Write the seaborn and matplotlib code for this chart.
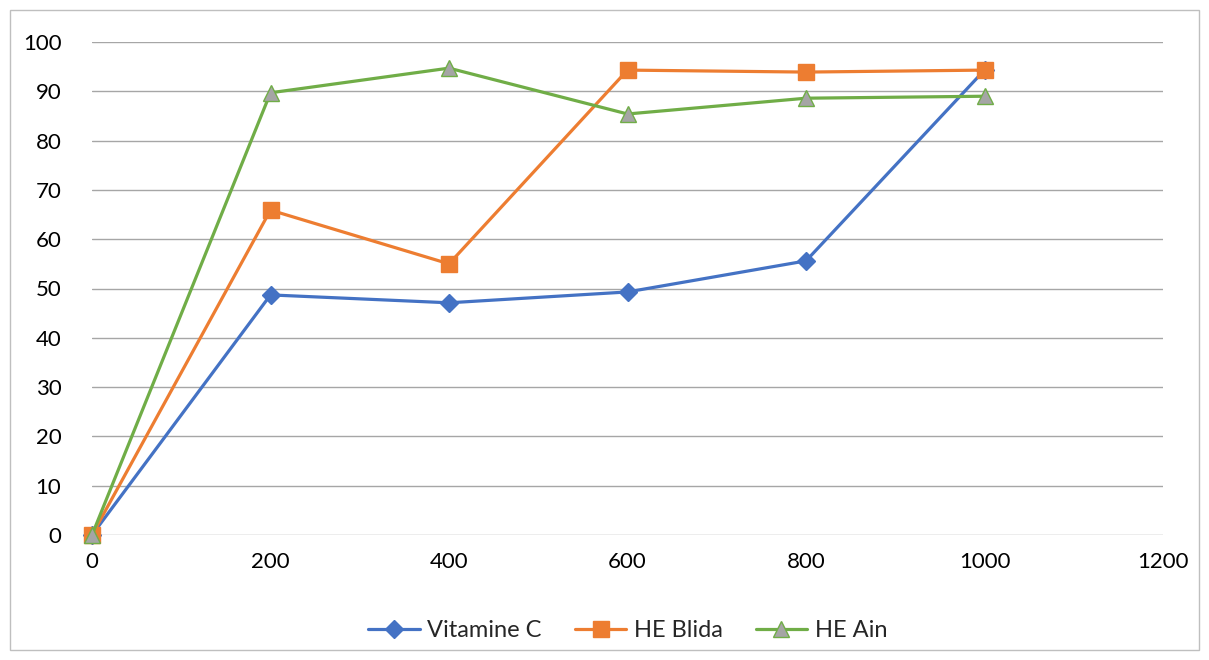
import matplotlib
matplotlib.use("Agg")
import matplotlib.pyplot as plt
import seaborn as sns
import pandas as pd
from matplotlib.patches import Rectangle

concentrations = [0, 200, 400, 600, 800, 1000]
vitamine_c = [0, 48.7, 47.1, 49.3, 55.6, 94.3]
he_blida = [0, 65.9, 55.0, 94.3, 93.9, 94.3]
he_ain = [0, 89.7, 94.7, 85.4, 88.6, 89.0]
series_names = ["Vitamine C", "HE Blida", "HE Ain"]
x_ticks = [0, 200, 400, 600, 800, 1000, 1200]
y_ticks = [0, 10, 20, 30, 40, 50, 60, 70, 80, 90, 100]

sns.set_theme(style="white")
plt.rcParams['font.family'] = ['Lato', 'DejaVu Sans']

fig = plt.figure(figsize=(12.09, 6.6), dpi=100)
ax = fig.add_axes([92/1209, 1-535/660, (1163-92)/1209, (535-42)/660])

styles = {
    "Vitamine C": dict(color="#4472C4", marker="D", markersize=9, markerfacecolor="#4472C4", markeredgecolor="#4472C4"),
    "HE Blida": dict(color="#ED7D31", marker="s", markersize=12, markerfacecolor="#ED7D31", markeredgecolor="#ED7D31"),
    "HE Ain": dict(color="#70AD47", marker="^", markersize=12, markerfacecolor="#A5A5A5", markeredgecolor="#70AD47"),
}
for name, vals in zip(series_names, [vitamine_c, he_blida, he_ain]):
    df = pd.DataFrame({"x": concentrations, "y": vals})
    sns.lineplot(data=df, x="x", y="y", ax=ax, label=name, linewidth=2.3,
                 markeredgewidth=1, clip_on=False, **styles[name])

ax.set_xlim(0, 1200)
ax.set_ylim(0, 100)
ax.set_xticks(x_ticks)
ax.set_yticks(y_ticks)
ax.set_xticklabels([str(t) for t in x_ticks], fontsize=16)
ax.set_yticklabels([str(t) for t in y_ticks], fontsize=16)
ax.set_xlabel("")
ax.set_ylabel("")
ax.grid(axis="y", color="#A6A6A6", linewidth=1)
ax.set_axisbelow(True)
for s in ax.spines.values():
    s.set_visible(False)
ax.tick_params(axis="y", length=0, pad=22, colors="#000000")
ax.tick_params(axis="x", length=0, pad=12, colors="#000000")

ax.legend(loc="upper center", ncol=3, frameon=False,
          fontsize=17, handlelength=2.2, columnspacing=1.4, handletextpad=0.3)
leg = ax.get_legend()
leg.set_bbox_to_anchor((0.5, -0.13), transform=ax.transAxes)

fig.patches.append(Rectangle((10/1209, 10/660), (1199-10)/1209, (650-10)/660,
                             transform=fig.transFigure, fill=False, edgecolor="#BFBFBF", linewidth=1))

fig.savefig("out.png", dpi=100)
